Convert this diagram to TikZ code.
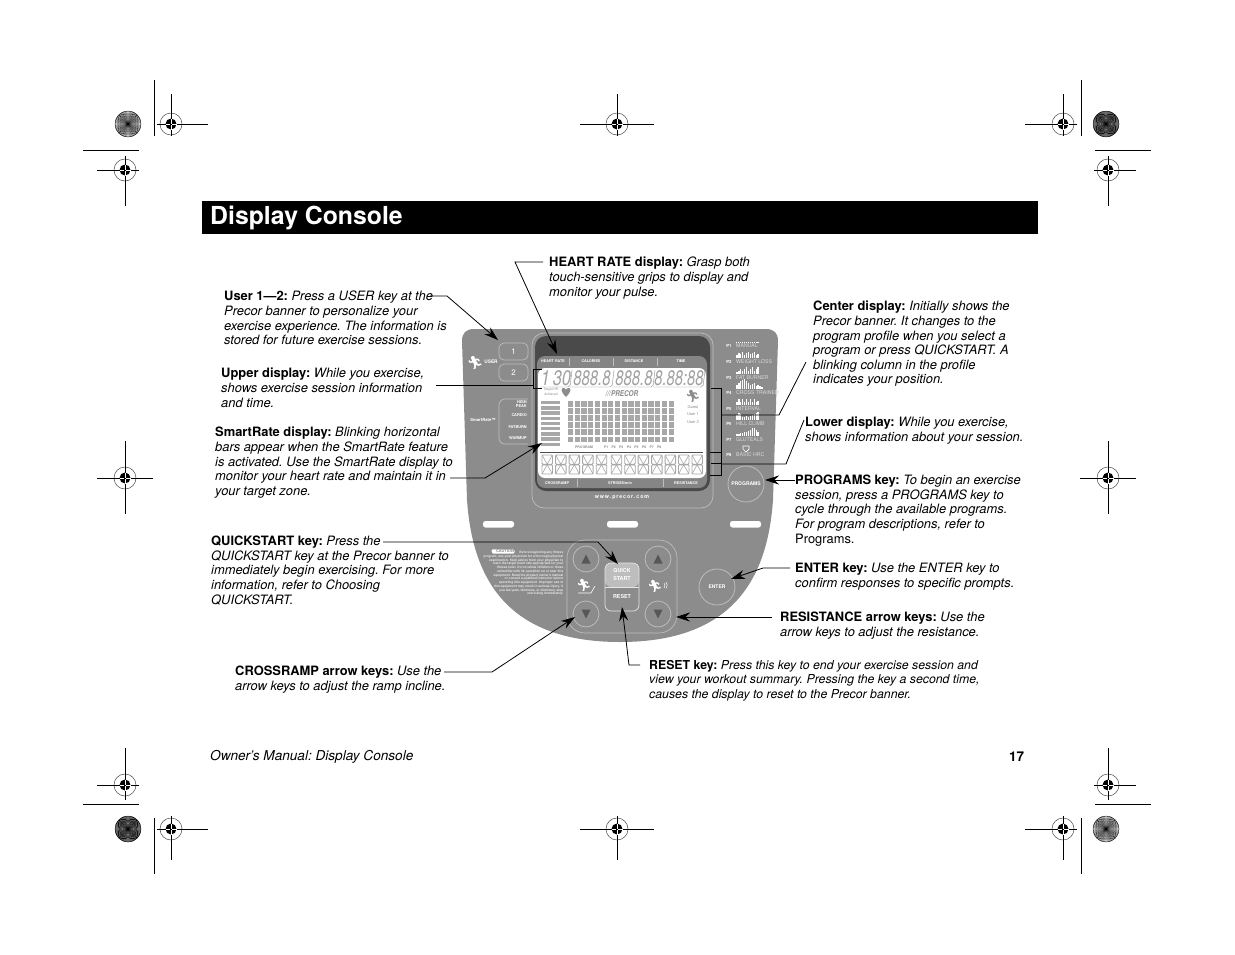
\documentclass[tikz,border=0pt]{standalone}
\usepackage{fontspec}
\setmainfont{TeX Gyre Heros}
\newfontfamily\emojifont{Noto Emoji}
\usetikzlibrary{arrows.meta,calc}
\definecolor{consolegray}{HTML}{8C8C8C}
\definecolor{darkpanel}{HTML}{4A4A4A}
\definecolor{midpanel}{HTML}{858585}
\definecolor{lcdgray}{HTML}{A8A8A8}
\definecolor{rimgray}{HTML}{BDBDBD}
\definecolor{digitgray}{HTML}{A0A0A0}
\tikzset{
 body/.style={anchor=north west,inner sep=0pt,align=left,font=\fontsize{12.9}{14.6}\selectfont\frenchspacing},
 small/.style={anchor=north west,inner sep=0pt,align=left,font=\fontsize{12.3}{14.6}\selectfont\frenchspacing},
 leader/.style={draw=black,line width=0.8pt},
 tipline/.style={leader,-{Stealth[length=14pt,width=9pt]}},
 crop/.style={draw=black,line width=0.8pt},
 lab/.style={inner sep=0pt,text=white,font=\fontsize{3.7}{5}\selectfont\bfseries},
 lcdlab/.style={inner sep=0pt,text=consolegray,font=\fontsize{3.4}{4.6}\selectfont\bfseries},
 rim/.style={draw=rimgray,line width=0.7pt},
 prog/.style={inner sep=0pt,anchor=west,text=white!85!black,font=\fontsize{5.2}{6}\selectfont},
 plab/.style={inner sep=0pt,text=white,font=\fontsize{4.2}{5}\selectfont\bfseries},
 digit/.style={inner sep=0pt,text=digitgray,font=\fontsize{21}{21}\selectfont\itshape},
 key/.style={circle,minimum size=26pt,inner sep=0pt,draw=rimgray,line width=0.8pt,fill=consolegray},
 keytri/.style={fill=darkpanel!80!consolegray},
}
\newcommand{\regmark}[6]{%
 \draw[black!70,line width=0.5pt] (#1,#2) circle (11);
 \fill[black] (#1,#2) circle (5.5);
 \draw[crop] (#1-#3,#2) -- (#1+#4,#2);
 \draw[crop] (#1,#2-#5) -- (#1,#2+#6);
 \draw[white,line width=0.6pt] (#1-5.5,#2) -- (#1+5.5,#2) (#1,#2-5.5) -- (#1,#2+5.5);
 \draw[black,line width=0.8pt] (#1-1,#2) -- (#1+1,#2);
}
\newcommand{\burst}[3]{%
 \fill[white] (#1,#2) circle (13);
 \foreach \a in {0,5,...,355}{
  \fill[black] (#1,#2) -- ++(\a-#3:13) arc[start angle=\a-#3,end angle=\a+#3,radius=13] -- cycle;
 }
 \draw[black,line width=0.3pt] (#1,#2) circle (13);
}
\newcommand{\profile}[3]{%
 \foreach \h [count=\i from 0] in {#3}{
  \fill[white] ({#1+\i*1.95},#2) rectangle ++(1.55,-\h);
 }
}
\begin{document}
\begin{tikzpicture}[x=1pt,y=-1pt]
\useasboundingbox (0,0) rectangle (1235,954);
\fill[white] (0,0) rectangle (1235,954);

% printer marks
\regmark{171}{124}{14}{37}{30}{12}
\regmark{125}{170}{28}{14}{14}{36}
\regmark{617}{124}{37}{37}{30}{12}
\regmark{1063}{124}{38}{14}{30}{12}
\regmark{1108}{170}{14}{28}{14}{36}
\regmark{125}{478}{28}{28}{37}{36}
\regmark{1108}{478}{28}{28}{37}{36}
\regmark{125}{785}{28}{14}{37}{15}
\regmark{1108}{785}{14}{28}{37}{15}
\regmark{171}{829}{14}{37}{13}{31}
\regmark{617}{829}{37}{37}{13}{31}
\regmark{1063}{829}{38}{14}{13}{31}
\draw[crop] (154,80) -- (154,136) (83,150) -- (139,150);
\draw[crop] (1081,80) -- (1081,136) (1095,150) -- (1151,150);
\draw[crop] (154,818) -- (154,874) (83,804) -- (139,804);
\draw[crop] (1081,818) -- (1081,874) (1095,804) -- (1151,804);
\burst{128}{124}{1.0}
\burst{1106}{124}{1.8}
\burst{128}{829}{1.8}
\burst{1106}{829}{1.0}

% title bar
\fill[black] (202,201) rectangle (1038,234);
\node[anchor=west,inner sep=0pt,text=white,font=\fontsize{24.8}{28}\selectfont\bfseries] (title) at (210,218) {Display Console};

% console body
\fill[consolegray] (462,341) .. controls (462,333) and (466,329) .. (474,329) -- (766,329)
 .. controls (774,329) and (778,333) .. (778,341) -- (773,500)
 .. controls (768,570) and (740,642) .. (620,642)
 .. controls (500,642) and (472,570) .. (467,500) -- cycle;

% display bezel
\draw[rim,rounded corners=12pt] (532,333) rectangle (713,508);
\fill[darkpanel,rounded corners=11pt] (535,336) rectangle (710,491);
\fill[midpanel,rounded corners=8pt] (537,356) rectangle (707,488);
\fill[white,rounded corners=7pt] (538,368) rectangle (706,478);
\foreach \x/\t in {553/HEART RATE,591/CALORIES,634/DISTANCE,681/TIME}{
 \node[lab] at (\x,361.5) {\t};
}
\draw[rimgray,line width=0.6pt] (569,358) -- (569,366) (613,358) -- (613,366) (657,358) -- (657,366);
\node[lab] at (557,483) {CROSSRAMP};
\node[lab] at (620,483) {STRIDES/min};
\node[lab] at (686,483) {RESISTANCE};
\draw[rimgray,line width=0.6pt] (577,479) -- (577,487) (663,479) -- (663,487);
\node[lab,font=\fontsize{5.3}{6}\selectfont\bfseries] (www) at (622,498) {w\,w\,w\,.\,p\,r\,e\,c\,o\,r\,.\,c\,o\,m};

% upper digits
\node[digit] at (556,378) {\scalebox{.78}[1]{1\,30}};
\node[digit] at (592,378) {\scalebox{.71}[1]{888.8}};
\node[digit] at (634,378) {\scalebox{.71}[1]{888.8}};
\node[digit] at (679,378) {\scalebox{.7}[1]{8.88:88}};
\draw[consolegray,line width=0.4pt,rounded corners=2pt]
 (540,387) -- (570,387) -- (572,370)
 (570,387) -- (612,387) -- (614,370)
 (612,387) -- (653,387) -- (655,370)
 (653,387) -- (703,387) -- (705,370);

% LCD content
\node[lcdlab,align=center,font=\fontsize{3.3}{4.4}\selectfont] at (551,392) {Target HR\\Achieved};
\fill[consolegray] (566,397) .. controls (560,391) and (561,388) .. (563.5,388) .. controls (565,388) and (566,389) .. (566,390)
 .. controls (566,389) and (567,388) .. (568.5,388) .. controls (571,388) and (572,391) .. (566,397) -- cycle;
\node[inner sep=0pt,text=consolegray,font=\fontsize{8}{9}\selectfont\bfseries\itshape] at (622,394) {\scalebox{.8}[1]{///PRECOR}};
\node[inner sep=0pt,text=consolegray,font=\fontsize{12}{12}\selectfont\emojifont] at (693,396) {🏃};
\foreach \y/\t in {407/Guest,414/User 1,422/User 2}{
 \node[lcdlab,font=\fontsize{4}{5}\selectfont] at (693,\y) {\t};
}
\foreach \i in {0,...,8}{
 \fill[lcdgray] (541,{401+\i*5.2}) rectangle (560,{401+\i*5.2+3.4});
}
\foreach \r in {0,...,5}{
 \foreach \c in {0,...,15}{
  \fill[lcdgray] ({568+\c*6.7},{401+\r*7.1}) rectangle ++(5.2,5.8);
 }
}
\node[lcdlab,anchor=west] at (575,447) {PROGRAM};
\foreach \i in {1,...,8}{
 \node[lcdlab] at ({598.5+\i*7.6},447) {P\i};
}
\draw[black!70,line width=0.6pt] (540,452) -- (703,452);
% lower cells
\foreach \i in {0,...,11}{
 \pgfmathsetmacro{\xa}{542+\i*13.55}
 \ifnum\i>4 \pgfmathsetmacro{\xa}{544+\i*13.45}\fi
 \draw[lcdgray,line width=0.9pt,rounded corners=1pt]
  (\xa,455) rectangle ++(10.5,9.2)
  (\xa,464.8) rectangle ++(10.5,9.2);
 \draw[lcdgray,line width=0.6pt]
  (\xa,455) -- ++(5.2,9.2) -- ++(5.2,-9.2)
  (\xa,474) -- ++(5.2,-9.2) -- ++(5.2,9.2);
}

% left keys
\draw[rim,rounded corners=5pt] (499,343) rectangle (528,360);
\draw[rim,rounded corners=5pt] (499,364) rectangle (528,381);
\node[inner sep=0pt,text=white,font=\fontsize{8}{9}\selectfont] at (513.5,351.5) {1};
\node[inner sep=0pt,text=white,font=\fontsize{8}{9}\selectfont] at (513.5,372.5) {2};
\node[inner sep=0pt,text=white,font=\fontsize{13}{13}\selectfont\emojifont] at (475,363) {🏃};
\node[lab,font=\fontsize{4.8}{5}\selectfont\bfseries] at (491,362) {USER};
\draw[rim,rounded corners=6pt] (528,399) -- (499,399) -- (499,444) -- (528,444);
\node[lab,font=\fontsize{4.2}{5}\selectfont\bfseries] at (483,420) {SmartRate™};
\node[lab,anchor=east,align=right,font=\fontsize{3.9}{4.4}\selectfont\bfseries] at (527,404) {HIGH\\PEAK};
\foreach \y/\t in {415/CARDIO,427/FATBURN,438/WARMUP}{
 \node[lab,anchor=east,font=\fontsize{3.9}{4.4}\selectfont\bfseries] at (527,\y) {\t};
}

% program list
\foreach \y/\p/\t in {346/P1/MANUAL,362/P2/WEIGHT LOSS,378/P3/FAT BURNER,393/P4/CROSS TRAINER,409/P5/INTERVAL,424/P6/HILL CLIMB,440/P7/GLUTEALS,455/P8/BASIC HRC}{
 \node[plab] at (729,\y) {\p};
 \node[prog] at (736,\y) {\t};
}
\foreach \i in {0,...,11}{\fill[white] ({736+\i*1.95},342) rectangle ++(1.4,1.4);}
\profile{736}{358}{3,5,4,6,3,5,6,4,5,6,3,4}
\profile{736}{374}{2,3,5,3,5,7,3,5,7,3,5,7}
\profile{736}{389}{4,6,8,9,10,8,6,4,5,6,3,4,3,2}
\profile{736}{405}{3,6,3,6,3,6,3,6,3,6,3,4}
\profile{736}{420}{5,7,6,3,3,4,3,4,5,6,7,8}
\profile{736}{436}{2,2,3,3,4,4,5,6,8,8,6,4}
\draw[white,line width=0.7pt] (743,446) -- (749,446) -- (749,449) -- (746,452) -- (743,449) -- cycle;

% programs and enter
\node[key,minimum size=36pt] (programs) at (746,484) {};
\node[lab,font=\fontsize{5}{6}\selectfont\bfseries] at (746,484) {PROGRAMS};
\node[key,minimum size=36pt] (enter) at (717,587) {};
\node[lab,font=\fontsize{5}{6}\selectfont\bfseries] at (717,587) {ENTER};

% slots
\foreach \x in {483,607,730}{
 \fill[white,rounded corners=2.5pt] (\x,521) rectangle ++(31,6.5);
}

% key panel
\draw[rim,rounded corners=18pt] (567,540) rectangle (677,633);
\node[key] (upl) at (586,559) {};
\node[key] (dnl) at (586,614) {};
\node[key] (upr) at (658,559) {};
\node[key] (dnr) at (658,614) {};
\fill[keytri] (581.5,563.5) -- (590.5,563.5) -- (586,554.5) -- cycle;
\fill[keytri] (653.5,563.5) -- (662.5,563.5) -- (658,554.5) -- cycle;
\fill[keytri] (581.5,609.5) -- (590.5,609.5) -- (586,618.5) -- cycle;
\fill[keytri] (653.5,609.5) -- (662.5,609.5) -- (658,618.5) -- cycle;
\fill[rimgray,rounded corners=6pt] (605,587) -- (605,563) -- (639,563) -- (639,587) -- cycle;
\draw[white!90!black,line width=0.7pt,rounded corners=6pt] (605,587) -- (605,563) -- (639,563) -- (639,611) -- (605,611) -- cycle;
\draw[white!90!black,line width=0.7pt] (605,587) -- (639,587);
\node[inner sep=0pt,text=white,align=center,font=\fontsize{5.4}{8}\selectfont\bfseries] (quick) at (622,575) {QUICK\\START};
\node[inner sep=0pt,text=white,font=\fontsize{5.4}{8}\selectfont\bfseries] (reset) at (622,597) {RESET};
\node[inner sep=0pt,text=white,font=\fontsize{12}{12}\selectfont\emojifont] at (584,585) {🏃};
\draw[white,line width=0.6pt] (578,593) -- (591,593) -- (595,586);
\node[inner sep=0pt,text=white,font=\fontsize{12}{12}\selectfont\emojifont] at (655,586) {🏃};
\draw[white,line width=0.5pt] (664,583) arc[start angle=-40,end angle=40,radius=4];
\draw[white,line width=0.5pt] (666,582) arc[start angle=-40,end angle=40,radius=5];

% caution text
\node[fill=white,rounded corners=1.5pt,inner sep=0.7pt,text=consolegray,font=\fontsize{4}{5}\selectfont\bfseries] (cau) at (503,551.5) {\hspace{4pt}CAUTION};
\fill[consolegray] (488.5,553.5) -- (492.5,553.5) -- (490.5,549.5) -- cycle;
\node[anchor=north east,inner sep=0pt,align=right,text=white!90!black,font=\fontsize{3.2}{3.75}\selectfont\bfseries] (caution) at (563.5,551) {Before beginning any fitness\\
program, see your physician for a thorough physical\\
examination. Seek advice from your physician to\\
learn the target heart rate appropriate for your\\
fitness level. Do not allow children or those\\
unfamiliar with its operation on or near this\\
equipment. Read the product owner's manual\\
or consult a qualified instructor before\\
operating this equipment. Improper use of\\
this equipment may result in serious injury. If\\
you feel pain, faintness, or dizziness, stop\\
exercising immediately.};

% callouts
\node[body] (user) at (224,291) {\textbf{User 1—2:} \textit{Press a USER key at the}\\\textit{Precor banner to personalize your}\\\textit{exercise experience. The information is}\\\textit{stored for future exercise sessions.}};
\node[body] (heart) at (549,257) {\textbf{HEART RATE display:} \textit{Grasp both}\\\textit{touch-sensitive grips to display and}\\\textit{monitor your pulse.}};
\node[body] (center) at (813,301) {\textbf{Center display:} \textit{Initially shows the}\\\textit{Precor banner. It changes to the}\\\textit{program profile when you select a}\\\textit{program or press QUICKSTART. A}\\\textit{blinking column in the profile}\\\textit{indicates your position.}};
\node[body] (upper) at (221,368) {\textbf{Upper display:} \textit{While you exercise,}\\\textit{shows exercise session information}\\\textit{and time.}};
\node[body] (lower) at (805,417) {\textbf{Lower display:} \textit{While you exercise,}\\\textit{shows information about your session.}};
\node[body] (smart) at (215,427) {\textbf{SmartRate display:} \textit{Blinking horizontal}\\\textit{bars appear when the SmartRate feature}\\\textit{is activated. Use the SmartRate display to}\\\textit{monitor your heart rate and maintain it in}\\\textit{your target zone.}};
\node[body] (prg) at (795,475) {\textbf{PROGRAMS key:} \textit{To begin an exercise}\\\textit{session, press a PROGRAMS key to}\\\textit{cycle through the available programs.}\\\textit{For program descriptions, refer to}\\Programs.};
\node[body] (qs) at (211,536) {\textbf{QUICKSTART key:} \textit{Press the}\\\textit{QUICKSTART key at the Precor banner to}\\\textit{immediately begin exercising. For more}\\\textit{information, refer to Choosing}\\\textit{QUICKSTART.}};
\node[body] (ent) at (795,563) {\textbf{ENTER key:} \textit{Use the ENTER key to}\\\textit{confirm responses to specific prompts.}};
\node[body] (res) at (780,612) {\textbf{RESISTANCE arrow keys:} \textit{Use the}\\\textit{arrow keys to adjust the resistance.}};
\node[body] (cr) at (235,666) {\textbf{CROSSRAMP arrow keys:} \textit{Use the}\\\textit{arrow keys to adjust the ramp incline.}};
\node[small] (rst) at (649,660) {\textbf{RESET key:} \textit{Press this key to end your exercise session and}\\\textit{view your workout summary. Pressing the key a second time,}\\\textit{causes the display to reset to the Precor banner.}};
\node[anchor=west,inner sep=0pt,font=\fontsize{13.6}{15}\selectfont\itshape\frenchspacing] (foot) at (210,757) {Owner's Manual: Display Console};
\node[anchor=west,inner sep=0pt,font=\fontsize{13.5}{15}\selectfont\bfseries] (page) at (1009,757) {17};

% leader coordinates
\coordinate (uA) at (430,296); \coordinate (uB) at (447,296); \coordinate (uT) at (498,340);
\coordinate (hA) at (543,262); \coordinate (hB) at (515,262); \coordinate (hT) at (557,354);
\coordinate (cA) at (806,362); \coordinate (cB) at (779,415); \coordinate (cC) at (721,415);
\coordinate (upA) at (436,385); \coordinate (upB) at (533,385);
\coordinate (lA) at (804,420); \coordinate (lB) at (786,464); \coordinate (lC) at (721,464);
\coordinate (sA) at (450,478); \coordinate (sB) at (485,478); \coordinate (sT) at (542,443);
\coordinate (pA) at (795,480); \coordinate (pT) at (765,480);
\coordinate (qA) at (383,542); \coordinate (qB) at (598,542); \coordinate (qT) at (618,564);
\coordinate (eA) at (790,568); \coordinate (eB) at (763,568); \coordinate (eT) at (731,579);
\coordinate (rA) at (772,617); \coordinate (rT) at (676,617);
\coordinate (crA) at (444,672); \coordinate (crB) at (492,672); \coordinate (crT) at (575,617);
\coordinate (xA) at (640,665); \coordinate (xB) at (629,665); \coordinate (xT) at (622,607);

\draw[tipline] (uA) -- (uB) -- (uT);
\draw[tipline] (hA) -- (hB) -- (hT);
\draw[leader] (cA) -- (cB) -- (cC);
\draw[leader] (711,388) -- (721,388) -- (721,463) -- (711,463);
\draw[leader] (upA) -- (upB);
\draw[leader] (542,369) -- (533,369) -- (533,388) -- (542,388);
\draw[leader] (lA) -- (lB) -- (lC);
\draw[leader] (710,452) -- (721,452) -- (721,475) -- (710,475);
\draw[tipline] (sA) -- (sB) -- (sT);
\draw[tipline] (pA) -- (pT);
\draw[tipline] (qA) -- (qB) -- (qT);
\draw[tipline] (eA) -- (eB) -- (eT);
\draw[tipline] (rA) -- (rT);
\draw[tipline] (crA) -- (crB) -- (crT);
\draw[tipline] (xA) -- (xB) -- (xT);
\end{tikzpicture}
\end{document}
